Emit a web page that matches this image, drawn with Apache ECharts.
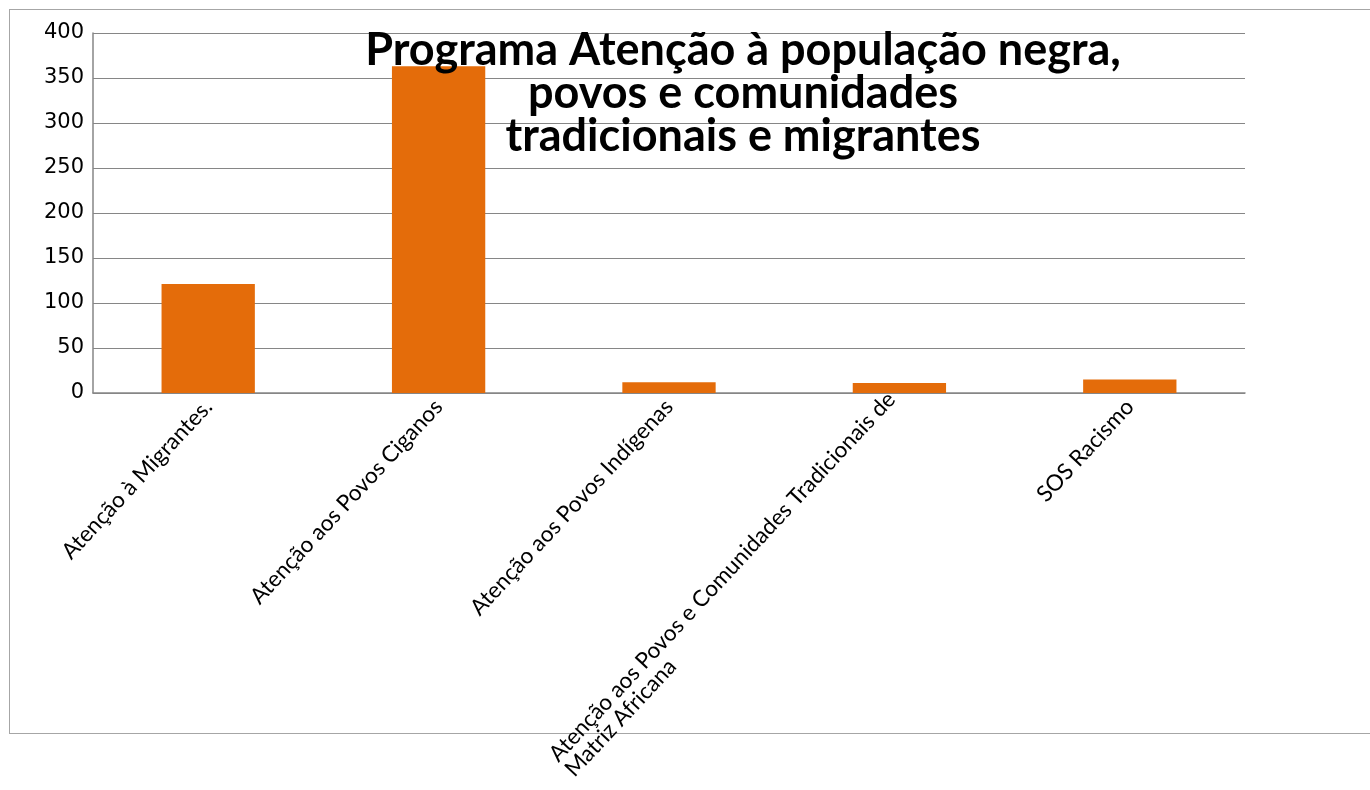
<!DOCTYPE html>
<html><head><meta charset="utf-8">
<script src="https://cdn.jsdelivr.net/npm/echarts@6/dist/echarts.min.js"></script>
<style>html,body{margin:0;padding:0;background:#fff}#frame{position:absolute;left:9px;top:9px;width:1370px;height:725px;border:1px solid #a6a6a6;box-sizing:border-box}#c{position:absolute;left:0;top:0;width:1370px;height:790px}</style>
</head><body><div id="frame"></div><div id="c"></div>
<script>
const categories = ["Atenção à Migrantes.", "Atenção aos Povos Ciganos", "Atenção aos Povos Indígenas", "Atenção aos Povos e Comunidades Tradicionais de\nMatriz Africana", "SOS Racismo"];
const values = [121, 363, 12, 11, 15];
const yTicks = {min: 0, max: 400, interval: 50};
const titleText = "Programa Atenção à população negra,\npovos e comunidades\ntradicionais e migrantes";
const chart = echarts.init(document.getElementById('c'));
chart.setOption({
  animation: false,
  title: {text: titleText, left: 738, top: 24, textAlign: 'center',
    textStyle: {fontFamily: 'Lato', fontWeight: 'bold', fontSize: 45, color: '#000', lineHeight: 43}},
  grid: {left: 93, right: 125, top: 33, bottom: 397, containLabel: false},
  xAxis: {type: 'category', data: categories,
    axisLine: {lineStyle: {color: '#868686', width: 1.5}}, axisTick: {show: false},
    axisLabel: {rotate: 47, fontFamily: 'Lato', fontSize: 22.5, color: '#000', margin: 10, interval: 0, lineHeight: 22,
      formatter: function (v) { return v.split('\n').map(function (s) { return '{a|' + s + '}'; }).join('\n'); },
      rich: {a: {align: 'left', fontFamily: 'Lato', fontSize: 22.5, color: '#000', lineHeight: 22}}}},
  yAxis: {type: 'value', min: yTicks.min, max: yTicks.max, interval: yTicks.interval,
    axisLine: {show: true, lineStyle: {color: '#868686', width: 1.5}}, axisTick: {show: false},
    splitLine: {lineStyle: {color: '#868686', width: 1}},
    axisLabel: {fontFamily: 'DejaVu Sans', fontSize: 21, color: '#000', margin: 9}},
  series: [{type: 'bar', data: values, barWidth: '40.5%', itemStyle: {color: '#E46C0A'}}]
});
</script></body></html>
